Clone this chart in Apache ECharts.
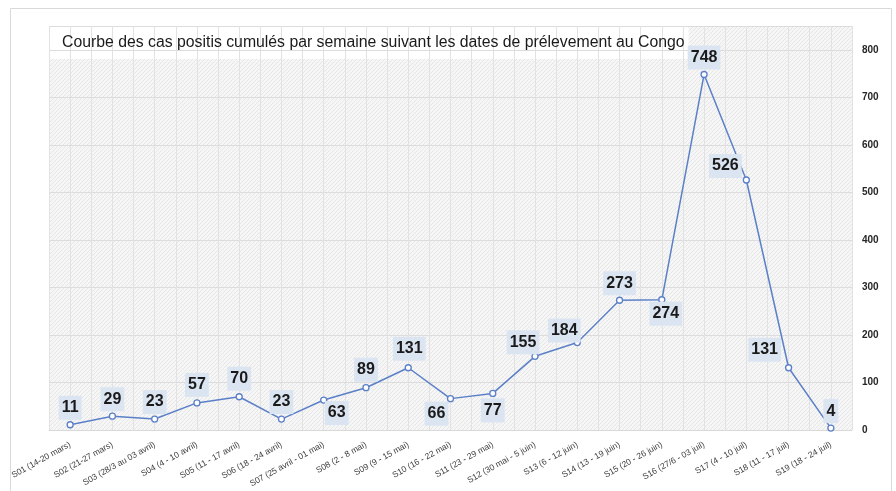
<!DOCTYPE html>
<html>
<head>
<meta charset="utf-8">
<script src="https://cdn.jsdelivr.net/npm/echarts@6/dist/echarts.min.js"></script>
<style>
html,body{margin:0;padding:0;background:#fff;}
#c{width:896px;height:491px;}
</style>
</head>
<body>
<div id="c"></div>
<script>
const categories = [
  "S01 (14-20 mars)", "S02 (21-27 mars)", "S03 (28/3 au 03 avril)", "S04 (4 - 10 avril)",
  "S05 (11 - 17 avril)", "S06 (18 - 24 avril)", "S07 (25 avril - 01 mai)", "S08 (2 - 8 mai)",
  "S09 (9 - 15 mai)", "S10 (16 - 22 mai)", "S11 (23 - 29 mai)", "S12 (30 mai - 5 juin)",
  "S13 (6 - 12 juin)", "S14 (13 - 19 juin)", "S15 (20 - 26 juin)", "S16 (27/6 - 03 juil)",
  "S17 (4 - 10 juil)", "S18 (11 - 17 juil)", "S19 (18 - 24 juil)"
];
const cases = [11, 29, 23, 57, 70, 23, 63, 89, 131, 66, 77, 155, 184, 273, 274, 748, 526, 131, 4];
const yTicks = [0, 100, 200, 300, 400, 500, 600, 700, 800];

// label placement (style, not data)
const labelOffsets = [
  [0,-17],[0,-17],[0,-17],[0,-18],[0,-18],[0,-17],[13,13],[0,-18],[1,-19],[-14,15],
  [0,17],[-12,-14],[-13,-12],[0,-17],[4,14],[0,-17],[-21,-14],[-24,-18],[0,-17]
];

const pat = document.createElement('canvas');
pat.width = 4; pat.height = 4;
const pc = pat.getContext('2d');
pc.fillStyle = '#f6f6f6';
pc.fillRect(0,0,4,4);
pc.fillStyle = '#e6e6e6';
for (let i = 0; i < 4; i++) { pc.fillRect(i, 3 - i, 1, 1); }

const chart = echarts.init(document.getElementById('c'), null, {renderer: 'canvas'});
chart.setOption({
  animation: false,
  backgroundColor: '#ffffff',
  graphic: [{
    type: 'rect', left: 8, top: 6, silent: true,
    shape: {width: 881, height: 490},
    style: {fill: 'none', stroke: '#d9d9d9', lineWidth: 1}, z: -1
  }],
  title: {
    text: 'Courbe des cas positis cumulés par semaine suivant les dates de prélevement au Congo',
    left: 50, top: 27, z: 0,
    padding: [8, 4, 8, 12],
    backgroundColor: '#ffffff',
    textStyle: {fontFamily: 'Liberation Sans, Arial, sans-serif', fontSize: 15.8, fontWeight: 'normal', color: '#1a1a1a'}
  },
  grid: {left: 49, right: 44, top: 26, bottom: 61, show: true,
    backgroundColor: {image: pat, repeat: 'repeat'}, borderWidth: 0},
  xAxis: [{
    type: 'category', data: categories, boundaryGap: true,
    axisTick: {show: false},
    axisLine: {show: true, lineStyle: {color: '#d9d9d9'}},
    splitLine: {show: false},
    axisLabel: {interval: 0, rotate: 29, fontSize: 8.5, color: '#404040', margin: 14,
      fontFamily: 'Liberation Sans, Arial, sans-serif'}
  }, {
    type: 'value', min: -0.5, max: 18.5, interval: 0.5, position: 'bottom',
    axisLine: {show: false}, axisTick: {show: false}, axisLabel: {show: false},
    splitLine: {show: true, lineStyle: {color: '#e2e2e2', width: 1}}
  }],
  yAxis: {
    type: 'value', position: 'right', min: 0, max: 850, interval: 100,
    axisLine: {show: false}, axisTick: {show: false},
    splitLine: {show: true, lineStyle: {color: '#dcdcdc'}},
    axisLabel: {
      showMaxLabel: false, margin: 10, fontSize: 10, fontWeight: 'bold', color: '#262626',
      fontFamily: 'Liberation Sans, Arial, sans-serif',
      formatter: v => yTicks.includes(v) ? String(v) : ''
    }
  },
  series: [{
    type: 'line', xAxisIndex: 0,
    data: cases.map((v, i) => ({
      value: v,
      label: {offset: labelOffsets[i]}
    })),
    symbol: 'circle', symbolSize: 6, showAllSymbol: true,
    lineStyle: {color: '#5b80c8', width: 1.5},
    itemStyle: {color: '#ffffff', borderColor: '#5b80c8', borderWidth: 1.3},
    label: {
      show: true, position: 'inside', align: 'center', verticalAlign: 'middle',
      fontFamily: 'Liberation Sans, Arial, sans-serif',
      fontSize: 16, fontWeight: 'bold', color: '#1a1a1a',
      backgroundColor: '#dbe4f1', padding: [4, 3, 3, 3], lineHeight: 17
    },
    z: 10
  }]
});
</script>
</body>
</html>
